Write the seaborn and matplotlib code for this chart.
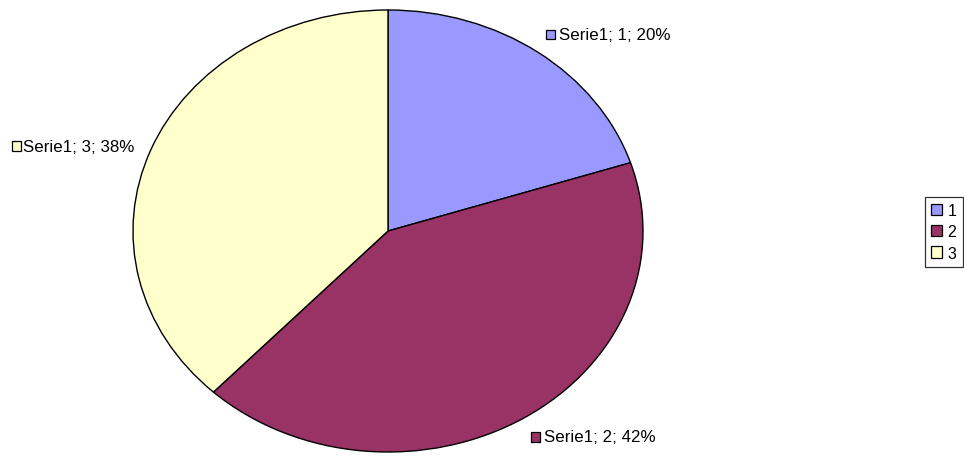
import matplotlib
matplotlib.use("Agg")
import matplotlib.pyplot as plt
import seaborn as sns
from matplotlib.patches import Rectangle, Patch

sns.set_theme(style="white")
plt.rcParams['font.family'] = ['Liberation Sans', 'DejaVu Sans']
plt.rcParams['text.color'] = 'black'

categories = ["1", "2", "3"]
values = [20, 42, 38]
series_name = "Serie1"
colors = ["#9999FF", "#993366", "#FFFFCC"]

W, H = 964, 460
fig = plt.figure(figsize=(W / 100, H / 100), dpi=100)
fig.patch.set_facecolor("white")

# pie axes (elliptical pie, like the reference)
cx, cy, rx, ry = 388, 232, 255, 221
ax = fig.add_axes([(cx - rx) / W, 1 - (cy + ry) / H, 2 * rx / W, 2 * ry / H])
ax.pie(values, colors=colors, startangle=90, counterclock=False,
       wedgeprops=dict(edgecolor="black", linewidth=1.0))
ax.set_aspect("auto")
ax.set_xlim(-1, 1)
ax.set_ylim(-1, 1)
ax.axis("off")

total = sum(values)
# data labels: (square center x, square center y, text left x) in pixels
label_pos = [(550.5, 35.5, 559), (535.5, 438, 544), (16.5, 147, 23)]
for cat, val, col, (sx, sy, tx) in zip(categories, values, colors, label_pos):
    s = 9.5
    fig.patches.append(Rectangle(((sx - s / 2) / W, 1 - (sy + s / 2) / H), s / W, s / H,
                                 transform=fig.transFigure, facecolor=col,
                                 edgecolor="black", linewidth=0.9))
    fig.text(tx / W, 1 - sy / H, f"{series_name}; {cat}; {round(val / total * 100)}%",
             ha="left", va="center", fontsize=12.2, color="black")

handles = [Patch(facecolor=c, edgecolor="black", linewidth=0.9) for c in colors]
leg = fig.legend(handles, categories, loc="upper right",
                 bbox_to_anchor=(963 / W, 1 - 198 / H), fontsize=11.5,
                 handlelength=0.7, handleheight=0.7, handletextpad=0.35,
                 borderpad=0.4, labelspacing=0.38, borderaxespad=0,
                 fancybox=False, frameon=True, labelcolor="black")
leg.get_frame().set_edgecolor("black")
leg.get_frame().set_linewidth(0.9)

fig.savefig("out.png", dpi=100, facecolor="white")
